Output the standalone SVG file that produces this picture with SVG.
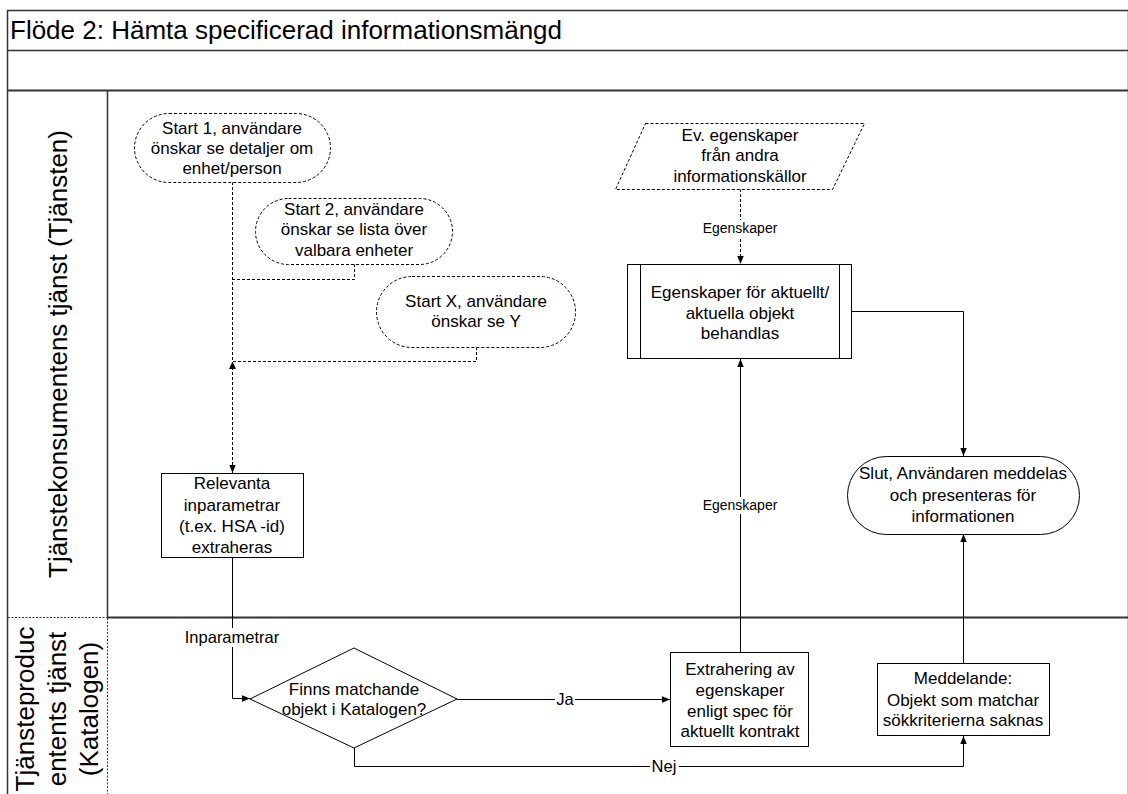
<svg xmlns="http://www.w3.org/2000/svg" width="1128" height="794" viewBox="0 0 1128 794">
<style>
text{font-family:"Liberation Sans",Arial,sans-serif;fill:#000}
.t{font-size:17px;text-anchor:middle}
.lbl{font-size:14px;text-anchor:middle}
.lbl2{font-size:16.5px;text-anchor:middle}
.lane{font-size:26px;text-anchor:middle}
.shape{fill:#fff;stroke:#000;stroke-width:1}
.dshape{fill:#fff;stroke:#000;stroke-width:1;stroke-dasharray:3 2}
.c{fill:none;stroke:#000;stroke-width:1}
.dc{fill:none;stroke:#000;stroke-width:1;stroke-dasharray:3 2}
.frame{fill:none;stroke:#333;stroke-width:1.5}
.bg{fill:#fff}
</style>
<defs>
<marker id="arr" viewBox="0 0 10 10" refX="10" refY="5" markerWidth="8" markerHeight="8" markerUnits="userSpaceOnUse" orient="auto">
<path d="M0,1 L10,5 L0,9 Z" fill="#000"/>
</marker>
</defs>
<rect width="1128" height="794" fill="#fff"/>
<g id="frame">
<rect class="frame" x="7.5" y="10.5" width="1121" height="800"/>
<line class="frame" x1="7" y1="50.5" x2="1128" y2="50.5"/>
<line x1="7" y1="90.5" x2="1128" y2="90.5" stroke="#333" stroke-width="2"/>
<line class="frame" x1="107.5" y1="90" x2="107.5" y2="617"/>
<line x1="107" y1="617.5" x2="1128" y2="617.5" stroke="#333" stroke-width="2"/>
<line x1="8" y1="617.5" x2="107" y2="617.5" stroke="#333" stroke-width="1" stroke-dasharray="2 1.5"/>
<line x1="107.5" y1="618" x2="107.5" y2="794" stroke="#333" stroke-width="1" stroke-dasharray="2 1.5"/>
<text x="10" y="39" style="font-size:26px">Flöde 2: Hämta specificerad informationsmängd</text>
</g>
<g id="lane1-label">
<text class="lane" transform="translate(67,354) rotate(-90)">Tjänstekonsumentens tjänst (Tjänsten)</text>
</g>
<g id="lane2-label">
<text class="lane" transform="translate(34,709) rotate(-90)">Tjänsteproduc</text>
<text class="lane" transform="translate(66,709) rotate(-90)">entents tjänst</text>
<text class="lane" transform="translate(98,709) rotate(-90)">(Katalogen)</text>
</g>
<g id="connectors">
<path class="dc" d="M232.5,182 V473" marker-end="url(#arr)"/>
<path class="dc" d="M354.5,264 V279.5 H232.5"/>
<path class="dc" d="M476.5,347 V361.5 H232.5"/>
<path d="M232.5,361.5 L229,369 L236,369 Z" fill="#000"/>
<path class="c" d="M232.5,557 V698.5 H250" marker-end="url(#arr)"/>
<rect class="bg" x="182" y="628" width="100" height="19"/>
<text class="lbl2" x="232" y="643">Inparametrar</text>
<path class="c" d="M457,699.5 H670" marker-end="url(#arr)"/>
<rect class="bg" x="555" y="690" width="20" height="18"/>
<text class="lbl2" x="565" y="705">Ja</text>
<path class="c" d="M354.5,748 V766.5 H963.5 V736" marker-end="url(#arr)"/>
<rect class="bg" x="650" y="757" width="29" height="18"/>
<text class="lbl2" x="664" y="772">Nej</text>
<path class="dc" d="M740.5,189 V264" marker-end="url(#arr)"/>
<rect class="bg" x="702" y="220" width="76" height="17"/>
<text class="lbl" x="740" y="233">Egenskaper</text>
<path class="c" d="M740.5,652 V359" marker-end="url(#arr)"/>
<rect class="bg" x="702" y="497" width="76" height="17"/>
<text class="lbl" x="740" y="510">Egenskaper</text>
<path class="c" d="M852,311.5 H963.5 V456" marker-end="url(#arr)"/>
<path class="c" d="M963.5,663 V534" marker-end="url(#arr)"/>
</g>
<g id="start1">
<rect class="dshape" x="134.5" y="113.5" width="196" height="69" rx="34.5"/>
<text class="t" x="232" y="134">Start 1, användare</text>
<text class="t" x="232" y="154">önskar se detaljer om</text>
<text class="t" x="232" y="174">enhet/person</text>
</g>
<g id="start2">
<rect class="dshape" x="255.5" y="198.5" width="197" height="66" rx="33"/>
<text class="t" x="354" y="215">Start 2, användare</text>
<text class="t" x="354" y="235">önskar se lista över</text>
<text class="t" x="354" y="256">valbara enheter</text>
</g>
<g id="startx">
<rect class="dshape" x="376.5" y="276.5" width="199" height="71" rx="35.5"/>
<text class="t" x="476" y="307">Start X, användare</text>
<text class="t" x="476" y="327">önskar se Y</text>
</g>
<g id="relevanta">
<rect class="shape" x="161.5" y="473.5" width="142" height="84"/>
<text class="t" x="232" y="489">Relevanta</text>
<text class="t" x="232" y="511">inparametrar</text>
<text class="t" x="232" y="532">(t.ex. HSA -id)</text>
<text class="t" x="232" y="553">extraheras</text>
</g>
<g id="ev-egenskaper">
<path class="dshape" d="M645.5,123.5 H864.5 L832.5,189.5 H615.5 Z"/>
<text class="t" x="740" y="141">Ev. egenskaper</text>
<text class="t" x="740" y="161">från andra</text>
<text class="t" x="740" y="182">informationskällor</text>
</g>
<g id="behandlas">
<rect class="shape" x="627.5" y="264.5" width="224" height="94"/>
<line class="c" x1="640.5" y1="264.5" x2="640.5" y2="358.5"/>
<line class="c" x1="839.5" y1="264.5" x2="839.5" y2="358.5"/>
<text class="t" x="740" y="298">Egenskaper för aktuellt/</text>
<text class="t" x="740" y="319">aktuella objekt</text>
<text class="t" x="740" y="339">behandlas</text>
</g>
<g id="slut">
<rect class="shape" x="847.5" y="456.5" width="232" height="78" rx="39"/>
<text class="t" x="963" y="479">Slut, Användaren meddelas</text>
<text class="t" x="963" y="501">och presenteras för</text>
<text class="t" x="963" y="522">informationen</text>
</g>
<g id="finns">
<path class="shape" d="M250,699 L354,648 L457,699 L354,748 Z"/>
<text class="t" x="354" y="695">Finns matchande</text>
<text class="t" x="354" y="715">objekt i Katalogen?</text>
</g>
<g id="extrahering">
<rect class="shape" x="670.5" y="652.5" width="138" height="94"/>
<text class="t" x="740" y="675">Extrahering av</text>
<text class="t" x="740" y="696">egenskaper</text>
<text class="t" x="740" y="717">enligt spec för</text>
<text class="t" x="740" y="737">aktuellt kontrakt</text>
</g>
<g id="meddelande">
<rect class="shape" x="877.5" y="663.5" width="172" height="72"/>
<text class="t" x="963" y="684">Meddelande:</text>
<text class="t" x="963" y="706">Objekt som matchar</text>
<text class="t" x="963" y="726">sökkriterierna saknas</text>
</g>
</svg>
